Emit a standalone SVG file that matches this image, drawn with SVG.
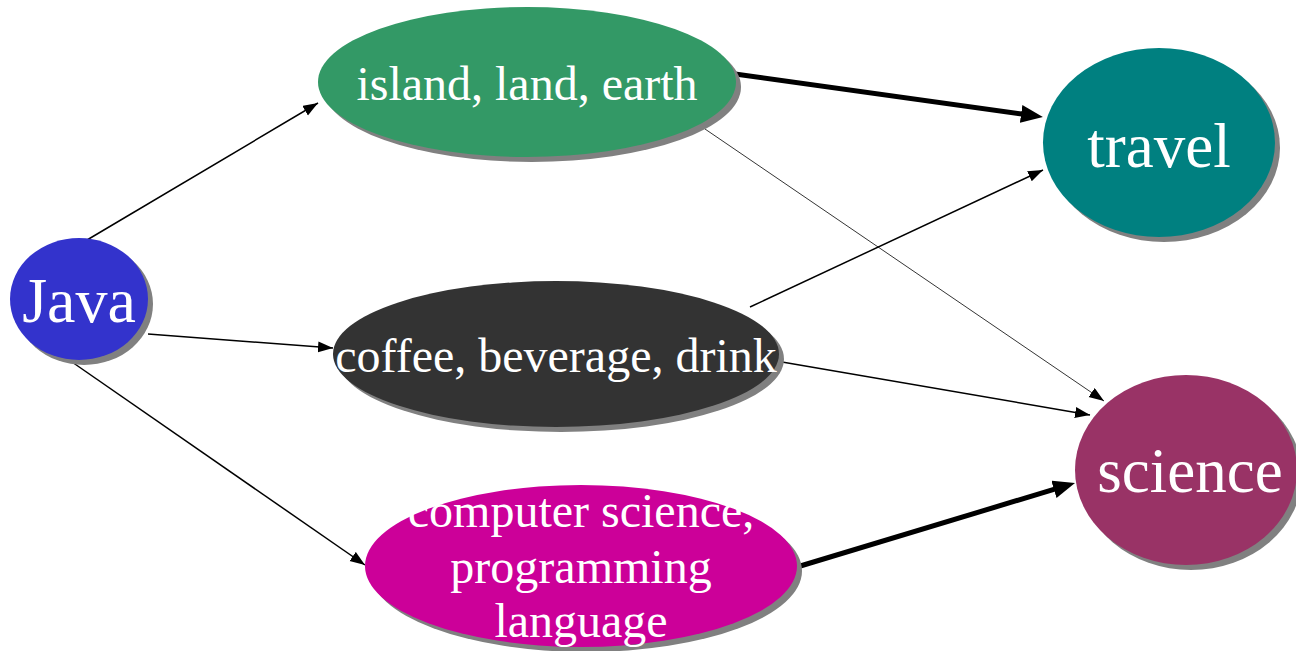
<svg xmlns="http://www.w3.org/2000/svg" width="1296" height="651" viewBox="0 0 1296 651">
<style>
.shadow{fill:#808080}
.lbl{font-family:"Liberation Serif","Times New Roman",serif;fill:#ffffff;text-anchor:middle}
.thin{stroke:#000;stroke-width:1.5;fill:none}
.hair{stroke:#000;stroke-width:0.8;fill:none}
.thick{stroke:#000;stroke-width:5;fill:none}
</style>
<defs>
<marker id="ah" markerUnits="userSpaceOnUse" markerWidth="16" markerHeight="12" refX="15" refY="5.5" orient="auto">
<path d="M0,0 L15,5.5 L0,11 z" fill="#000"/>
</marker>
<marker id="ahL" markerUnits="userSpaceOnUse" markerWidth="24" markerHeight="20" refX="12" refY="9" orient="auto">
<path d="M0,0 L22,9 L0,18 z" fill="#000"/>
</marker>
</defs>
<rect width="1296" height="651" fill="#ffffff"/>
<g id="connectors">
<line class="thin" x1="87" y1="240" x2="318" y2="103" marker-end="url(#ah)"/>
<line class="thin" x1="148" y1="334" x2="333" y2="348" marker-end="url(#ah)"/>
<line class="thin" x1="72" y1="362" x2="365" y2="565" marker-end="url(#ah)"/>
<line class="hair" x1="705" y1="129" x2="1104" y2="401" marker-end="url(#ah)"/>
<line class="thin" x1="750" y1="307" x2="1043" y2="170" marker-end="url(#ah)"/>
<line class="thin" x1="782" y1="362" x2="1090" y2="415" marker-end="url(#ah)"/>
<line class="thick" x1="735" y1="74" x2="1033" y2="115.6" marker-end="url(#ahL)"/>
<line class="thick" x1="797" y1="567" x2="1065.4" y2="485.9" marker-end="url(#ahL)"/>
</g>
<g id="node-java">
<ellipse class="shadow" cx="84" cy="304" rx="69" ry="61"/>
<ellipse cx="79" cy="299" rx="69" ry="61" fill="#3333cc"/>
<text class="lbl" x="79" y="322" font-size="64">Java</text>
</g>
<g id="node-island">
<ellipse class="shadow" cx="532" cy="87" rx="209" ry="75"/>
<ellipse cx="527" cy="82" rx="209" ry="75" fill="#339966"/>
<text class="lbl" x="527" y="100" font-size="48">island, land, earth</text>
</g>
<g id="node-coffee">
<ellipse class="shadow" cx="561" cy="359" rx="223" ry="73"/>
<ellipse cx="556" cy="354" rx="223" ry="73" fill="#333333"/>
<text class="lbl" x="556" y="372" font-size="48">coffee, beverage, drink</text>
</g>
<g id="node-computer">
<ellipse class="shadow" cx="586" cy="571" rx="216" ry="81"/>
<ellipse cx="581" cy="566" rx="216" ry="81" fill="#cc0099"/>
<text class="lbl" x="581" y="527" font-size="48">computer science,</text>
<text class="lbl" x="581" y="583" font-size="48">programming</text>
<text class="lbl" x="581" y="637" font-size="48">language</text>
</g>
<g id="node-travel">
<ellipse class="shadow" cx="1164" cy="147.5" rx="116" ry="94.5"/>
<ellipse cx="1159" cy="142.5" rx="116" ry="94.5" fill="#008080"/>
<text class="lbl" x="1159" y="167" font-size="63">travel</text>
</g>
<g id="node-science">
<ellipse class="shadow" cx="1191" cy="475" rx="111" ry="95"/>
<ellipse cx="1186" cy="470" rx="111" ry="95" fill="#993366"/>
<text class="lbl" x="1190" y="492" font-size="63">science</text>
</g>
</svg>
